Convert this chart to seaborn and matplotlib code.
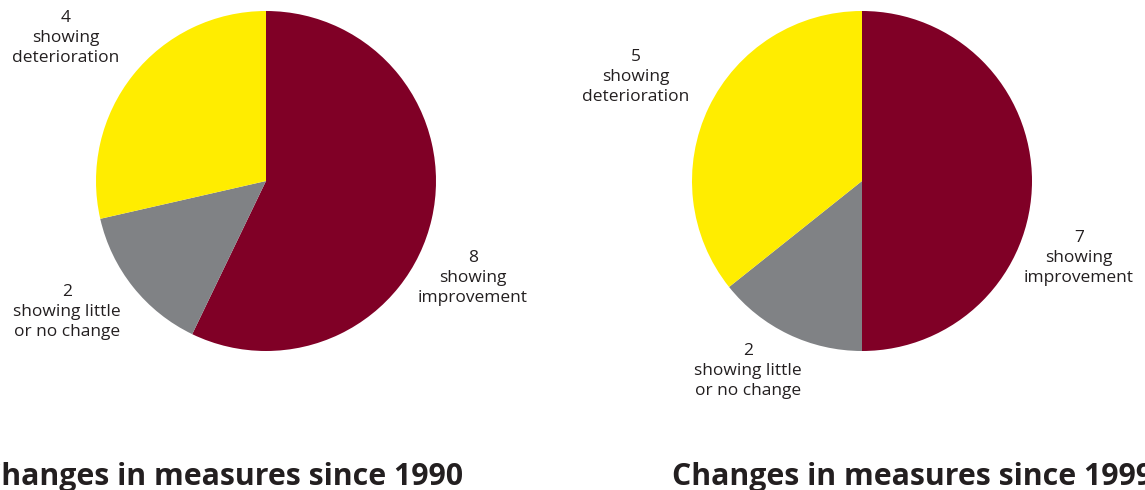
import matplotlib.pyplot as plt
import seaborn as sns

categories = ["showing improvement", "showing little\nor no change", "showing deterioration"]
counts_1990 = [8, 2, 4]
counts_1999 = [7, 2, 5]
titles = ["Changes in measures since 1990", "Changes in measures since 1999"]

sns.set_theme(style="white")
plt.rcParams['font.family'] = ['Open Sans', 'DejaVu Sans']
colors = ["#800026", "#808285", "#FFED00"]

W, H = 1145, 490
fig = plt.figure(figsize=(W / 100, H / 100), dpi=100)


def pie_axes(cx, cy, r):
    # pixel centre/radius -> figure axes box
    return fig.add_axes([(cx - r) / W, (H - cy - r) / H, 2 * r / W, 2 * r / H])


def label(ax, cx, cy, r, px, py, n, cat):
    # place a label at a pixel position, expressed in the pie's data units
    ax.text((px - cx) / r, (cy - py) / r, f"{n}\n{cat}", ha="center", va="center",
            fontsize=12.5, color="#231f20", linespacing=1.35, clip_on=False)


pies = [
    (266, 181, 170, counts_1990, [(473, 278), (67, 312), (66, 38)]),
    (862, 181, 170, counts_1999, [(1079, 258), (748, 371), (636, 77)]),
]

for cx, cy, r, counts, spots in pies:
    ax = pie_axes(cx, cy, r)
    ax.pie(counts, colors=colors, startangle=90, counterclock=False,
           wedgeprops=dict(linewidth=0))
    ax.set_xlim(-1, 1)
    ax.set_ylim(-1, 1)
    ax.set_aspect("auto")
    ax.axis("off")
    for n, cat, (px, py) in zip(counts, categories, spots):
        label(ax, cx, cy, r, px, py, n, cat.replace("showing ", "showing\n", 1)
              if "little" not in cat else cat)

# titles run past the figure edges, as in the original
fig.text(463 / W, 5 / H, titles[0], ha="right", va="baseline",
         fontsize=21.8, fontweight="bold", color="#231f20")
fig.text(672 / W, 5 / H, titles[1], ha="left", va="baseline",
         fontsize=21.8, fontweight="bold", color="#231f20")

fig.savefig("out.png", dpi=100, facecolor="white")
